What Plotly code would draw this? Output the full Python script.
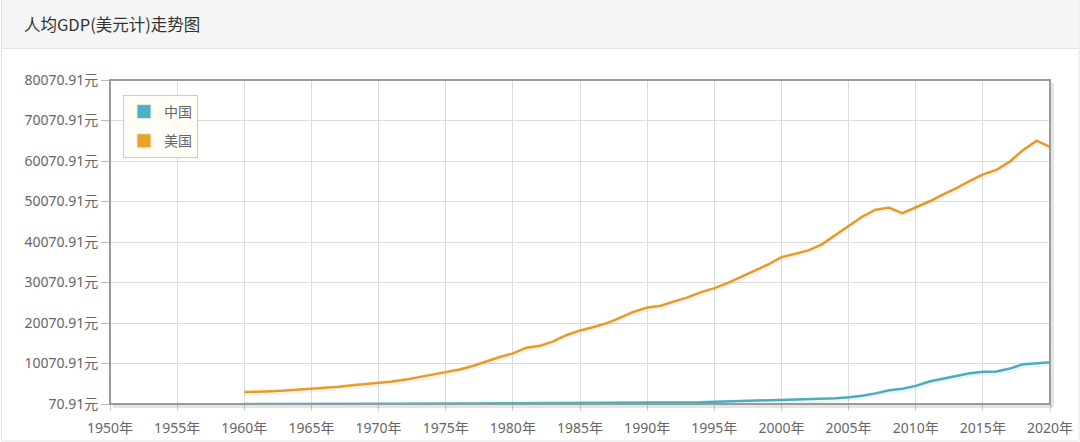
import plotly.graph_objects as go

years = list(range(1960, 2021))
china = [89.5, 75.8, 70.91, 74.3, 85.5, 98.5, 104.3, 96.6, 91.5, 100.1,
         113.2, 118.7, 131.9, 157.1, 160.1, 178.3, 165.4, 185.4, 156.4, 183.9,
         194.8, 197.1, 203.3, 225.4, 250.7, 294.5, 281.9, 251.8, 283.5, 310.9,
         317.9, 333.1, 366.5, 377.4, 473.5, 609.7, 709.4, 781.7, 828.6, 873.3,
         959.4, 1053.1, 1148.5, 1288.6, 1508.7, 1753.4, 2099.2, 2694.0, 3468.3, 3832.2,
         4550.5, 5614.4, 6300.6, 7020.4, 7636.1, 8016.4, 8094.4, 8817.0, 9905.3, 10143.9,
         10408.7]
usa = [3007, 3067, 3244, 3375, 3574, 3828, 4146, 4336, 4696, 5032,
       5234, 5609, 6094, 6726, 7226, 7801, 8592, 9453, 10565, 11674,
       12575, 13976, 14434, 15544, 17121, 18237, 19071, 20039, 21417, 22857,
       23889, 24342, 25419, 26387, 27695, 28691, 29968, 31459, 32854, 34515,
       36330, 37134, 37998, 39490, 41725, 44123, 46302, 48050, 48570, 47195,
       48651, 50066, 51784, 53291, 55124, 56763, 57867, 59915, 62805, 65095,
       63544]
series_names = ["中国", "美国"]
series_colors = ["#4bb2c5", "#EAA228"]
title_text = "人均GDP(美元计)走势图"

y_min = 70.91
y_ticks = [y_min + 10000 * k for k in range(9)]
y_ticktext = [f"{v:.2f}元" for v in y_ticks]
x_ticks = list(range(1950, 2021, 5))
x_ticktext = [f"{v}年" for v in x_ticks]

W, H = 1080, 442
L, R, T, B = 110, 1050, 80, 404
PW, PH = R - L, B - T

def px(x):
    return (x - L) / PW

def py(y):
    return (B - y) / PH

fig = go.Figure()
for name, vals, col in zip(series_names, [china, usa], series_colors):
    fig.add_trace(go.Scatter(x=years, y=vals, mode="lines", name=name,
                             line=dict(color="rgba(0,0,0,0.05)", width=4), showlegend=False,
                             hoverinfo="skip", yaxis="y2"))
for name, vals, col in zip(series_names, [china, usa], series_colors):
    fig.add_trace(go.Scatter(x=years, y=vals, mode="lines", name=name,
                             line=dict(color=col, width=2.5), showlegend=False,
                             hoverinfo="x+y"))
for name, col in zip(series_names, series_colors):
    fig.add_trace(go.Scatter(x=[None], y=[None], mode="markers", name=name,
                             legendgroup=name,
                             marker=dict(symbol="square", size=14, color=col,
                                         line=dict(color="#e8e8e8", width=1))))

font_main = "Noto Sans, Noto Sans CJK SC, sans-serif"

shapes = [
    dict(type="rect", xref="paper", yref="paper", x0=px(1.5), x1=px(1079), y0=py(0), y1=py(441),
         line=dict(color="#e3e3e3", width=1), fillcolor="white", layer="below"),
    dict(type="rect", xref="paper", yref="paper", x0=px(2), x1=px(1078.5), y0=py(0), y1=py(48),
         line=dict(width=0), fillcolor="#f5f5f5", layer="below"),
    dict(type="line", xref="paper", yref="paper", x0=px(2), x1=px(1078.5), y0=py(48.5), y1=py(48.5),
         line=dict(color="#e3e3e3", width=1), layer="below"),
    dict(type="line", xref="paper", yref="paper", x0=px(R + 2.5), x1=px(R + 2.5), y0=py(T + 3), y1=py(B + 2.5),
         line=dict(color="rgba(0,0,0,0.10)", width=3)),
    dict(type="line", xref="paper", yref="paper", x0=px(L + 3), x1=px(R + 2.5), y0=py(B + 2.5), y1=py(B + 2.5),
         line=dict(color="rgba(0,0,0,0.10)", width=3)),
    dict(type="rect", xref="paper", yref="paper", x0=0, x1=1, y0=0, y1=1,
         line=dict(color="#9a9a9a", width=2)),
]

shadow_shift = 2 * 80000 / PH

fig.update_layout(
    width=W, height=H,
    margin=dict(l=L, r=W - R, t=T, b=H - B, pad=0, autoexpand=False),
    paper_bgcolor="white",
    plot_bgcolor="#fffdf6",
    shapes=shapes,
    showlegend=True,
    legend=dict(x=px(123), y=py(95), xanchor="left", yanchor="top",
                bgcolor="rgba(255,253,246,1)", bordercolor="#cccccc", borderwidth=1,
                font=dict(family=font_main, size=14, color="#666"),
                traceorder="grouped", tracegroupgap=8, itemwidth=30),
    annotations=[dict(text=title_text, xref="paper", yref="paper", x=px(22), y=py(24),
                      xanchor="left", yanchor="middle", showarrow=False,
                      font=dict(family="Noto Sans CJK SC, sans-serif", size=16.5, color="#333"))],
    xaxis=dict(range=[1950, 2020], tickvals=x_ticks, ticktext=x_ticktext,
               showgrid=True, gridcolor="#dcdcdc", gridwidth=1, zeroline=False,
               ticks="outside", ticklen=6, tickcolor="#cccccc", ticklabelstandoff=5,
               tickfont=dict(family=font_main, size=14, color="#666"),
               showline=False, automargin=False),
    yaxis=dict(range=[y_min, y_min + 80000], tickvals=y_ticks, ticktext=y_ticktext,
               showgrid=True, gridcolor="#dcdcdc", gridwidth=1, zeroline=False,
               ticks="outside", ticklen=8, tickcolor="#bbbbbb",
               tickfont=dict(family=font_main, size=14, color="#666"),
               showline=False, automargin=False),
    yaxis2=dict(range=[y_min + shadow_shift, y_min + 80000 + shadow_shift], overlaying="y",
                visible=False, automargin=False),
)

fig.write_html("out.html", config={"displayModeBar": False},
               post_script="document.body.style.margin='0';document.body.style.overflow='hidden';")
